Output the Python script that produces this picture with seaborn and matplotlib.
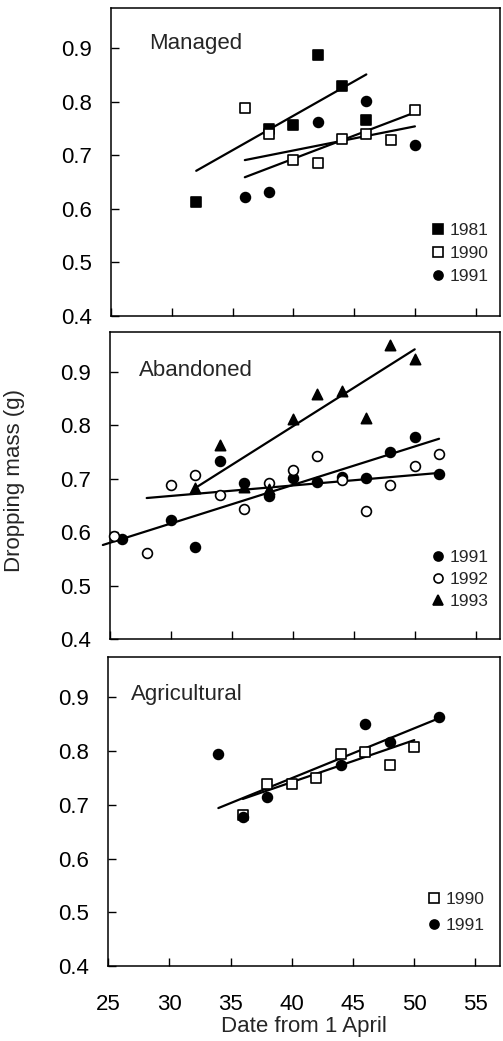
# Dropping mass vs date, three habitat panels

import matplotlib
matplotlib.use("Agg")
import matplotlib.pyplot as plt
import seaborn as sns

# Managed
man_x_1981 = [32, 38, 40, 42, 44, 46]
man_y_1981 = [0.612, 0.750, 0.757, 0.888, 0.830, 0.765]
man_x_1990 = [36, 38, 40, 42, 44, 46, 48, 50]
man_y_1990 = [0.788, 0.739, 0.692, 0.686, 0.731, 0.739, 0.729, 0.785]
man_x_1991 = [36, 38, 42, 46, 50]
man_y_1991 = [0.623, 0.631, 0.763, 0.802, 0.720]
man_fit_x = [[32, 46], [36, 50], [36, 50]]
man_fit_y = [[0.671, 0.851], [0.659, 0.780], [0.691, 0.754]]

# Abandoned
ab_x_1991 = [26, 30, 32, 34, 36, 38, 40, 42, 44, 46, 48, 50, 52]
ab_y_1991 = [0.588, 0.623, 0.573, 0.733, 0.692, 0.667, 0.701, 0.694, 0.704, 0.701, 0.750, 0.779, 0.709]
ab_x_1992 = [25.3, 28, 30, 32, 34, 36, 38, 40, 42, 44, 46, 48, 50, 52]
ab_y_1992 = [0.593, 0.561, 0.689, 0.707, 0.670, 0.644, 0.692, 0.716, 0.742, 0.697, 0.639, 0.689, 0.724, 0.747]
ab_x_1993 = [32, 34, 36, 38, 40, 42, 44, 46, 48, 50]
ab_y_1993 = [0.683, 0.764, 0.684, 0.681, 0.812, 0.859, 0.864, 0.814, 0.950, 0.925]
ab_fit_x = [[24.4, 52], [28, 52], [32, 50]]
ab_fit_y = [[0.576, 0.775], [0.664, 0.711], [0.683, 0.9425]]

# Agricultural
ag_x_1990 = [36, 38, 40, 42, 44, 46, 48, 50]
ag_y_1990 = [0.682, 0.738, 0.739, 0.750, 0.795, 0.799, 0.775, 0.807]
ag_x_1991 = [34, 36, 38, 44, 46, 48, 52]
ag_y_1991 = [0.794, 0.677, 0.715, 0.775, 0.850, 0.817, 0.863]
ag_fit_x = [[36, 50], [34, 52]]
ag_fit_y = [[0.711, 0.8205], [0.694, 0.861]]

y_ticks = [0.4, 0.5, 0.6, 0.7, 0.8, 0.9]
x_ticks = [25, 30, 35, 40, 45, 50, 55]

sns.set_style("ticks")
plt.rcParams["font.family"] = ["Liberation Sans", "DejaVu Sans"]

# marker styles per year: (marker, face, size)
style = {
    "1981": ("s", "black", 50),
    "1990": ("s", "white", 50),
    "1991": ("o", "black", 50),
    "1992": ("o", "white", 50),
    "1993": ("^", "black", 55),
}

panels = [
    dict(name="Managed", pos=[0.221, 0.6965, 0.773, 0.2958], name_xy=(28.1, 0.908),
         series=[("1981", man_x_1981, man_y_1981), ("1990", man_x_1990, man_y_1990),
                 ("1991", man_x_1991, man_y_1991)],
         fit_x=man_fit_x, fit_y=man_fit_y, lab_sp=0.43, leg_xy=(0.985, 0.088)),
    dict(name="Abandoned", pos=[0.219, 0.3862, 0.775, 0.2949], name_xy=(27.4, 0.903),
         series=[("1991", ab_x_1991, ab_y_1991), ("1992", ab_x_1992, ab_y_1992),
                 ("1993", ab_x_1993, ab_y_1993)],
         fit_x=ab_fit_x, fit_y=ab_fit_y, lab_sp=0.4, leg_xy=(0.985, 0.08)),
    dict(name="Agricultural", pos=[0.215, 0.0720, 0.779, 0.2968], name_xy=(26.9, 0.905),
         series=[("1990", ag_x_1990, ag_y_1990), ("1991", ag_x_1991, ag_y_1991)],
         fit_x=ag_fit_x, fit_y=ag_fit_y, lab_sp=0.65, leg_xy=(0.975, 0.09)),
]

fig = plt.figure(figsize=(5.03, 10.41), dpi=100)

for i, p in enumerate(panels):
    ax = fig.add_axes(p["pos"])
    for fx, fy in zip(p["fit_x"], p["fit_y"]):
        sns.lineplot(x=fx, y=fy, ax=ax, color="black", linewidth=1.6,
                     legend=False, zorder=2)
    # the abandoned 1991 fit runs a little past the left axis
    for line in ax.get_lines():
        line.set_clip_on(False)
    handles = []
    for year, xs, ys in p["series"]:
        mk, face, size = style[year]
        sns.scatterplot(x=xs, y=ys, ax=ax, marker=mk, s=size, color=face,
                        edgecolor="black", linewidth=1.2, zorder=3, clip_on=False)
        handles.append(plt.Line2D([], [], linestyle="none", marker=mk,
                                  markerfacecolor=face, markeredgecolor="black",
                                  markeredgewidth=1.2, markersize=6.5, label=year))
    ax.legend(handles=handles, loc="lower right", bbox_to_anchor=p["leg_xy"],
              frameon=False, fontsize=12.5, handletextpad=0.2, handlelength=1.0,
              labelspacing=p["lab_sp"], borderaxespad=0, borderpad=0.3)
    ax.text(p["name_xy"][0], p["name_xy"][1], p["name"], fontsize=16, va="center", ha="left")

    ax.set_xlim(25, 57)
    ax.set_ylim(0.4, 0.975)
    ax.set_xticks(x_ticks)
    ax.set_yticks(y_ticks)
    ax.set_yticklabels([f"{v:.1f}" for v in y_ticks])
    ax.tick_params(direction="in", length=5.5, width=1, labelsize=16, colors="black")
    ax.tick_params(axis="y", pad=14)
    ax.tick_params(axis="x", pad=20)
    for sp in ax.spines.values():
        sp.set_visible(True)
        sp.set_linewidth(1.1)
        sp.set_color("black")
    if i < 2:
        ax.set_xticklabels([])
    else:
        ax.set_xlabel("Date from 1 April", fontsize=16, labelpad=1)
    ax.set_ylabel("")

fig.text(15 / 503, 1 - 481 / 1041, "Dropping mass (g)", rotation=90,
         fontsize=16, ha="center", va="center")

fig.savefig("out.png", dpi=100)
